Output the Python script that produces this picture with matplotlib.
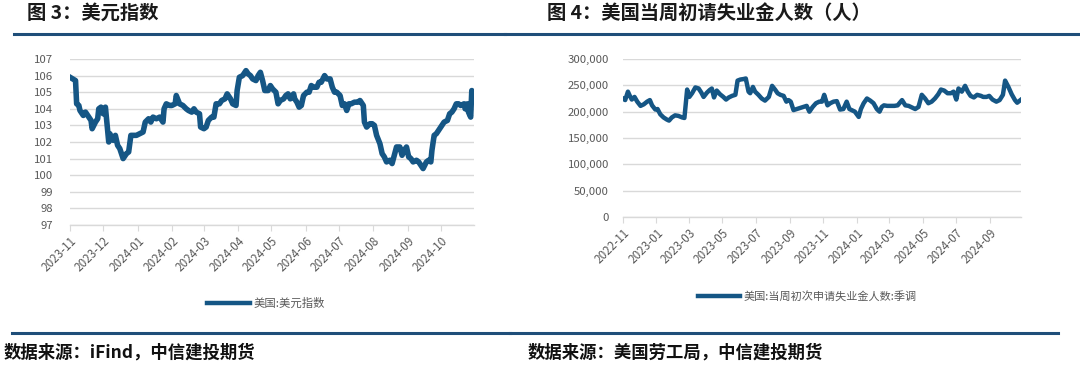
import matplotlib
matplotlib.use("Agg")
import matplotlib.pyplot as plt
import matplotlib.dates as mdates
import matplotlib.ticker as mticker
from matplotlib.lines import Line2D
import pandas as pd

plt.rcParams["font.family"] = ["Noto Sans CJK SC", "DejaVu Sans"]
plt.rcParams["axes.unicode_minus"] = False

# ---- data: US dollar index (days since 2023-11-01, value) ----
dxy_start = "2023-11-01"
dxy_days = [
    0, 5, 6, 8, 9, 12, 14, 17, 19, 20, 23, 25, 26, 28, 30, 32, 35, 36, 39, 41,
    43, 45, 48, 51, 53, 55, 57, 60, 63, 66, 68, 71, 73, 75, 78, 81, 84, 85, 87, 90,
    92, 95, 96, 99, 102, 105, 107, 110, 112, 114, 117, 118, 121, 123, 125, 128, 130, 132, 135, 137,
    140, 142, 145, 147, 150, 151, 153, 156, 159, 161, 163, 165, 168, 170, 172, 174, 176, 179, 181, 183,
    186, 188, 190, 193, 195, 197, 199, 202, 203, 205, 207, 209, 211, 214, 216, 218, 220, 223, 225, 227,
    230, 232, 235, 237, 239, 241, 244, 246, 248, 250, 252, 254, 257, 260, 262, 265, 266, 268, 271, 273,
    275, 277, 280, 282, 284, 286, 289, 291, 293, 295, 298, 300, 302, 304, 306, 308, 310, 313, 315, 317,
    319, 322, 324, 326, 327, 329, 331, 334, 336, 338, 341, 343, 345, 347, 349, 351, 353, 356, 357, 359,
    360, 362, 363, 364, 365,
]
dxy_vals = [
    105.9, 105.7, 104.3, 104.2, 103.9, 103.6, 103.8, 103.5, 103.3, 102.8, 103.2, 103.4, 104.0, 104.1, 103.7, 104.1, 102.0, 102.5, 102.1, 102.4,
    101.8, 101.6, 101.0, 101.3, 101.4, 102.4, 102.4, 102.4, 102.5, 102.6, 103.2, 103.4, 103.2, 103.5, 103.4, 103.5, 103.2, 104.0, 104.3, 104.2,
    104.2, 104.3, 104.8, 104.3, 104.2, 104.0, 103.9, 103.8, 104.0, 103.8, 103.7, 102.9, 102.8, 102.9, 103.3, 103.5, 103.5, 104.3, 104.3, 104.5,
    104.6, 104.9, 104.6, 104.3, 104.2, 105.1, 105.9, 106.0, 106.3, 106.1, 106.0, 105.8, 105.7, 106.0, 106.2, 105.7, 105.1, 105.1, 105.4, 105.2,
    105.0, 104.3, 104.5, 104.6, 104.8, 104.9, 104.6, 104.9, 104.6, 104.4, 104.1, 104.2, 104.8, 105.0, 105.0, 105.4, 105.3, 105.3, 105.6, 105.6,
    106.0, 105.8, 105.8, 105.3, 105.0, 105.0, 104.8, 104.2, 104.3, 103.9, 104.3, 104.3, 104.4, 104.4, 104.5, 104.2, 103.2, 102.9, 103.1, 103.1,
    103.0, 102.4, 101.9, 101.3, 101.1, 100.8, 100.9, 100.7, 101.2, 101.7, 101.7, 101.2, 101.5, 101.7, 101.1, 101.0, 100.8, 100.9, 100.8, 100.6,
    100.4, 100.8, 100.9, 100.8, 101.5, 102.4, 102.5, 102.8, 103.0, 103.2, 103.3, 103.7, 103.8, 104.0, 104.3, 104.3, 104.2, 104.3, 104.0, 104.3,
    103.8, 103.5, 105.1, 104.9, 104.5,
]
dxy_ticks = ["2023-11", "2023-12", "2024-01", "2024-02", "2024-03", "2024-04",
             "2024-05", "2024-06", "2024-07", "2024-08", "2024-09", "2024-10"]

# ---- data: US initial jobless claims, SA (days since 2022-11-01, thousands) ----
claims_start = "2022-11-01"
claims_days = [
    0, 4, 9, 12, 16, 21, 26, 32, 38, 44, 49, 53, 59, 63, 68, 74, 80, 84, 89, 95,
    101, 108, 112, 117, 121, 126, 132, 138, 143, 147, 153, 158, 162, 166, 171, 177, 183, 188, 193, 199,
    205, 209, 214, 220, 224, 229, 232, 237, 241, 247, 253, 259, 266, 272, 278, 282, 287, 293, 298, 302,
    306, 311, 317, 323, 329, 335, 340, 346, 352, 358, 363, 367, 373, 378, 384, 390, 396, 402, 408, 413,
    417, 423, 430, 434, 439, 445, 451, 457, 463, 468, 472, 476, 482, 489, 495, 501, 509, 515, 521, 527,
    533, 539, 545, 551, 557, 563, 569, 575, 580, 586, 592, 598, 603, 608, 612, 618, 624, 629, 634, 640,
    646, 653, 657, 663, 668, 674, 681, 687, 693, 697, 703, 709, 715, 719, 725,
]
claims_k = [
    225, 222, 238, 231, 223, 228, 219, 211, 214, 219, 222, 212, 204, 205, 195, 189, 185, 183, 189, 193,
    192, 189, 188, 242, 228, 235, 246, 244, 236, 228, 236, 241, 244, 227, 240, 233, 228, 223, 227, 230,
    232, 259, 261, 262, 263, 238, 235, 247, 238, 232, 225, 221, 228, 249, 241, 235, 232, 230, 219, 222,
    219, 203, 205, 207, 209, 211, 200, 209, 216, 219, 219, 232, 212, 216, 219, 220, 204, 205, 219, 205,
    203, 200, 190, 205, 216, 225, 221, 216, 205, 200, 209, 212, 211, 211, 211, 212, 222, 212, 211, 208,
    205, 209, 232, 225, 216, 219, 225, 233, 242, 240, 235, 235, 238, 223, 244, 238, 249, 238, 230, 227,
    232, 230, 228, 228, 230, 223, 219, 222, 232, 259, 247, 233, 222, 217, 222,
]
claims_ticks = ["2022-11", "2023-01", "2023-03", "2023-05", "2023-07", "2023-09", "2023-11",
                "2024-01", "2024-03", "2024-05", "2024-07", "2024-09"]

LINE_BLUE = "#155685"
RULE_BLUE = "#1f4e79"
GRID = "#d9d9d9"
TICK_GREY = "#595959"


def style_axis(ax, ticks, ypad):
    ax.set_xticks(pd.to_datetime(ticks))
    ax.xaxis.set_major_formatter(mdates.DateFormatter("%Y-%m"))
    for lbl in ax.get_xticklabels():
        lbl.set_rotation(45)
        lbl.set_ha("right")
        lbl.set_rotation_mode("anchor")
    ax.tick_params(axis="x", colors=GRID, labelcolor=TICK_GREY, labelsize=8.4,
                   length=4, width=0.8, pad=3)
    ax.tick_params(axis="y", length=0, labelcolor=TICK_GREY, labelsize=8.2, pad=ypad)
    ax.grid(axis="y", color=GRID, linewidth=1)
    ax.set_axisbelow(True)
    for side in ["top", "right", "left"]:
        ax.spines[side].set_visible(False)
    ax.spines["bottom"].set_color(GRID)
    ax.spines["bottom"].set_linewidth(1)


fig = plt.figure(figsize=(10.8, 3.7), dpi=100)

# left panel: dollar index
ax1 = fig.add_axes([70 / 1080, 1 - 225 / 370, 404 / 1080, 166 / 370])
dxy_dates = pd.Timestamp(dxy_start) + pd.to_timedelta(dxy_days, unit="D")
ax1.plot(dxy_dates, dxy_vals, color=LINE_BLUE, linewidth=4, solid_joinstyle="round")
ax1.set_ylim(97, 107)
ax1.set_yticks(range(97, 108))
ax1.set_xlim(pd.Timestamp(dxy_start), pd.Timestamp(dxy_start) + pd.Timedelta(days=365))
style_axis(ax1, dxy_ticks, ypad=12)

# right panel: initial claims
ax2 = fig.add_axes([623 / 1080, 1 - 217 / 370, 398 / 1080, 158 / 370])
claims_dates = pd.Timestamp(claims_start) + pd.to_timedelta(claims_days, unit="D")
ax2.plot(claims_dates, [v * 1000 for v in claims_k], color=LINE_BLUE, linewidth=3.2,
         solid_joinstyle="round")
ax2.set_ylim(0, 300000)
ax2.set_yticks(range(0, 300001, 50000))
ax2.yaxis.set_major_formatter(mticker.FuncFormatter(lambda v, p: f"{int(v):,}"))
ax2.set_xlim(pd.Timestamp(claims_start), pd.Timestamp(claims_start) + pd.Timedelta(days=726))
style_axis(ax2, claims_ticks, ypad=10)

# legends
h1 = [Line2D([], [], color=LINE_BLUE, linewidth=3.2)]
fig.legend(h1, ["美国:美元指数"], loc="center", bbox_to_anchor=(266 / 1080, 1 - 303 / 370),
           frameon=False, fontsize=8.2, handlelength=3.8, handletextpad=0.3,
           labelcolor=TICK_GREY)
fig.legend(h1, ["美国:当周初次申请失业金人数:季调"], loc="center",
           bbox_to_anchor=(807 / 1080, 1 - 296 / 370), frameon=False, fontsize=8,
           handlelength=3.8, handletextpad=0.3, labelcolor=TICK_GREY)

# titles
fig.text(27 / 1080, 1 - 13 / 370, "图 3：美元指数", fontsize=13.9, fontweight="bold",
         color="#1a1a1a", va="center", ha="left")
fig.text(547 / 1080, 1 - 13 / 370, "图 4：美国当周初请失业金人数（人）", fontsize=13.9,
         fontweight="bold", color="#1a1a1a", va="center", ha="left")

# rules
fig.add_artist(Line2D([14 / 1080, 505 / 1080], [1 - 33.5 / 370] * 2, color=RULE_BLUE, linewidth=2.2))
fig.add_artist(Line2D([505 / 1080, 1078 / 1080], [1 - 33.5 / 370] * 2, color=RULE_BLUE, linewidth=2.2))
fig.add_artist(Line2D([12 / 1080, 510 / 1080], [1 - 333 / 370] * 2, color=RULE_BLUE, linewidth=2.2))
fig.add_artist(Line2D([510 / 1080, 1058 / 1080], [1 - 333 / 370] * 2, color=RULE_BLUE, linewidth=2.2))

# sources
fig.text(4 / 1080, 1 - 353 / 370, "数据来源：iFind，中信建投期货", fontsize=12.5,
         fontweight="bold", fontstyle="italic", color="#111111", va="center", ha="left")
fig.text(528 / 1080, 1 - 353 / 370, "数据来源：美国劳工局，中信建投期货", fontsize=12.5,
         fontweight="bold", fontstyle="italic", color="#111111", va="center", ha="left")

fig.savefig("out.png", dpi=100)
